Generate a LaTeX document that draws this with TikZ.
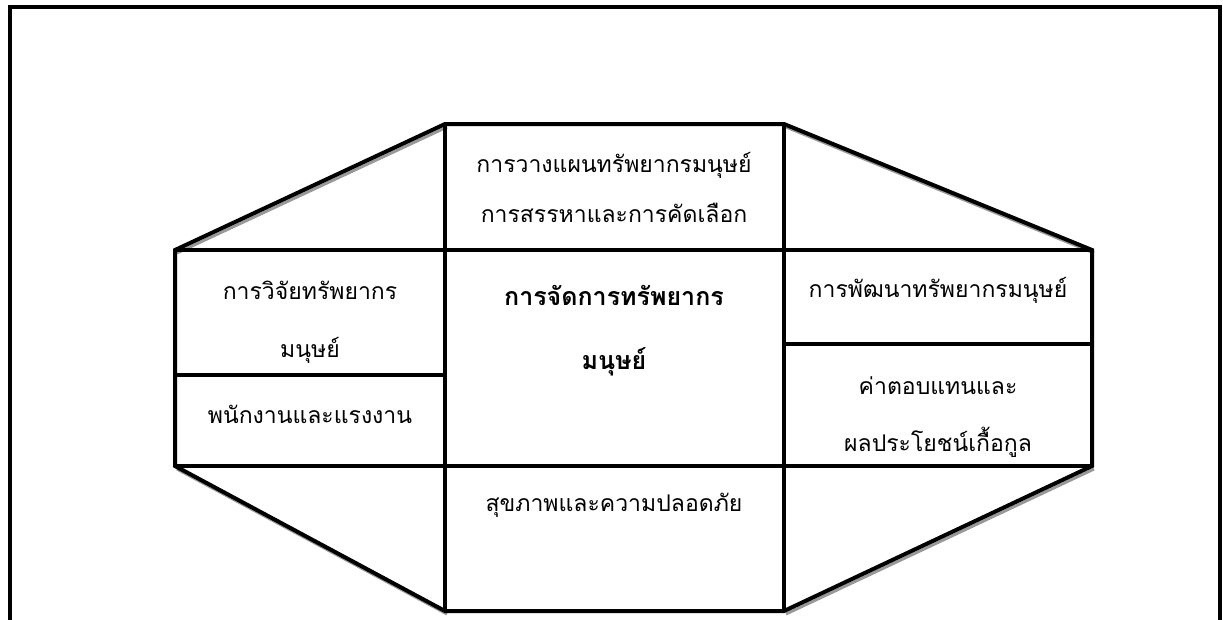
\documentclass[tikz,border=0pt]{standalone}
\usepackage{fontspec}
\newfontfamily\thaifont[Script=Thai]{Loma}
\begin{document}
\begin{tikzpicture}[x=1pt,y=-1pt,
  frameline/.style={line width=4pt, line join=miter},
  shade/.style={line width=3pt, draw=black!40},
  lbl/.style={font=\thaifont\fontsize{23}{26}\selectfont, inner sep=0pt, anchor=center},
  blbl/.style={font=\thaifont\bfseries\fontsize{25}{28}\selectfont, inner sep=0pt, anchor=center}]
\useasboundingbox (0,0) rectangle (1223,619);
\clip (0,0) rectangle (1223,619);
% outer frame (open at the bottom)
\draw[frameline] (10,640) -- (10,7) -- (1220,7) -- (1220,640);
% corner coordinates
\coordinate (tl) at (445,124);
\coordinate (tr) at (784,124);
\coordinate (ml) at (175,250);
\coordinate (mr) at (1092,250);
\coordinate (bl) at (175,466);
\coordinate (br) at (1092,466);
\coordinate (dl) at (445,611);
\coordinate (dr) at (784,611);
% shadows of the slanted sides
\draw[shade] ([shift={(2,3)}]ml) -- ([shift={(2,3)}]tl);
\draw[shade] ([shift={(2,3)}]tr) -- ([shift={(2,3)}]mr);
\draw[shade] ([shift={(2,3)}]bl) -- ([shift={(2,3)}]dl);
\draw[shade] ([shift={(2,3)}]br) -- ([shift={(2,3)}]dr);
% octagon outline
\draw[frameline] (tl) -- (tr) -- (mr) -- (br) -- (dr) -- (dl) -- (bl) -- (ml) -- cycle;
% inner grid
\draw[frameline] (tl) -- (dl);
\draw[frameline] (tr) -- (dr);
\draw[frameline] (ml) -- (mr);
\draw[frameline] (bl) -- (br);
\draw[frameline] (175,375) -- (445,375);
\draw[frameline] (784,344) -- (1092,344);
% texts
\node[lbl] (t1) at (614,165) {การวางแผนทรัพยากรมนุษย์};
\node[lbl] (t2) at (614,213) {การสรรหาและการคัดเลือก};
\node[blbl] (c1) at (614,295) {การจัดการทรัพยากร};
\node[blbl] (c2) at (614,362) {มนุษย์};
\node[lbl] (l1) at (310,290) {การวิจัยทรัพยากร};
\node[lbl] (l2) at (310,350) {มนุษย์};
\node[lbl] (l3) at (310,414) {พนักงานและแรงงาน};
\node[lbl] (r1) at (938,290) {การพัฒนาทรัพยากรมนุษย์};
\node[lbl] (r2) at (938,386) {ค่าตอบแทนและ};
\node[lbl] (r3) at (938,442) {ผลประโยชน์เกื้อกูล};
\node[lbl] (b1) at (614,505) {สุขภาพและความปลอดภัย};
\end{tikzpicture}
\end{document}
